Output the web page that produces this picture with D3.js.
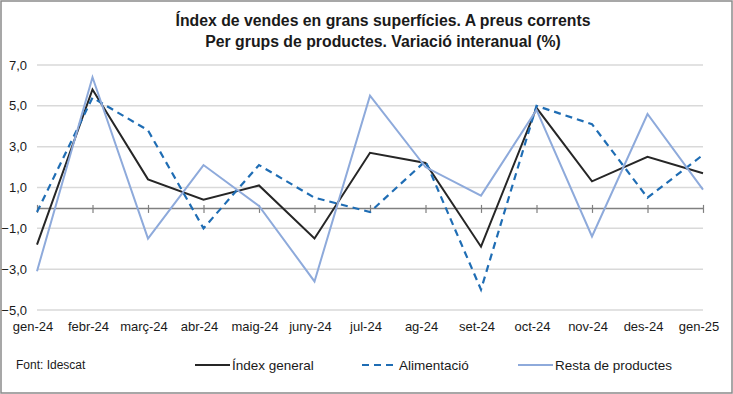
<!DOCTYPE html>
<html lang="ca">
<head>
<meta charset="UTF-8">
<title>Índex de vendes en grans superfícies</title>
<script src="https://d3js.org/d3.v7.min.js"></script>
<style>
    html, body { margin: 0; padding: 0; background: #fff; }
    svg { display: block; font-family: "Liberation Sans", Arial, sans-serif; }
</style>
</head>
<body>
<svg id="chart" width="733" height="394"></svg>
<script>
// Data
const months = ["gen-24", "febr-24", "març-24", "abr-24", "maig-24", "juny-24", "jul-24",
                "ag-24", "set-24", "oct-24", "nov-24", "des-24", "gen-25"];
const indexGeneral = [-1.8, 5.8, 1.4, 0.4, 1.1, -1.5, 2.7, 2.2, -1.9, 4.9, 1.3, 2.5, 1.7];
const alimentacio  = [-0.2, 5.4, 3.8, -1.0, 2.1, 0.5, -0.2, 2.3, -4.0, 5.0, 4.1, 0.5, 2.6];
const restaProductes = [-3.1, 6.4, -1.5, 2.1, 0.1, -3.6, 5.5, 2.0, 0.6, 4.8, -1.4, 4.6, 0.9];
const yTicks = [-5, -3, -1, 1, 3, 5, 7];

const series = [
    { name: "Índex general", values: indexGeneral, color: "#262626", dash: null, width: 2 },
    { name: "Alimentació", values: alimentacio, color: "#1f6db4", dash: "7,5", width: 2.2 },
    { name: "Resta de productes", values: restaProductes, color: "#8eaadb", dash: null, width: 2 }
];

const svg = d3.select("#chart");
const W = 733, H = 394;

// outer frame
svg.append("rect")
    .attr("x", 1).attr("y", 1)
    .attr("width", W - 2).attr("height", H - 2)
    .attr("fill", "#fff")
    .attr("stroke", "#8a8a8a")
    .attr("stroke-width", 1.5);

// title
const title = svg.append("text")
    .attr("text-anchor", "middle")
    .attr("font-size", "15.8px")
    .attr("font-weight", "bold")
    .attr("fill", "#1a1a1a");
title.append("tspan").attr("x", 383).attr("y", 26)
    .text("Índex de vendes en grans superfícies. A preus corrents");
title.append("tspan").attr("x", 383).attr("y", 47)
    .text("Per grups de productes. Variació interanual (%)");

const x = d3.scalePoint().domain(months).range([37, 703]);
const y = d3.scaleLinear().domain([-5, 7]).range([310, 65]);

// gridlines
svg.append("g")
    .selectAll("line")
    .data(yTicks)
    .join("line")
    .attr("x1", 37).attr("x2", 703)
    .attr("y1", d => y(d)).attr("y2", d => y(d))
    .attr("stroke", "#d9d9d9")
    .attr("stroke-width", 1.5);

// y labels
svg.append("g")
    .selectAll("text")
    .data(yTicks)
    .join("text")
    .attr("x", 27)
    .attr("y", d => y(d))
    .attr("dy", "0.35em")
    .attr("text-anchor", "end")
    .attr("font-size", "13px")
    .attr("fill", "#1a1a1a")
    .text(d => d3.format(".1f")(d).replace(".", ","));

// zero axis with cross ticks
const xAxis = d3.axisBottom(x).tickSize(0).tickFormat("");
const axisG = svg.append("g")
    .attr("transform", `translate(0,${y(0)})`)
    .call(xAxis);
axisG.select(".domain").attr("stroke", "#808080").attr("stroke-width", 1.5);
axisG.selectAll(".tick").append("line")
    .attr("y1", -3).attr("y2", 5)
    .attr("stroke", "#808080")
    .attr("stroke-width", 1.2);

// x labels
svg.append("g")
    .selectAll("text")
    .data(months)
    .join("text")
    .attr("x", d => x(d) - 4)
    .attr("y", 331)
    .attr("text-anchor", "middle")
    .attr("font-size", "13px")
    .attr("fill", "#1a1a1a")
    .text(d => d);

// lines
const line = d3.line()
    .x((d, i) => x(months[i]))
    .y(d => y(d));

svg.append("g")
    .selectAll("path")
    .data(series)
    .join("path")
    .attr("d", d => line(d.values))
    .attr("fill", "none")
    .attr("stroke", d => d.color)
    .attr("stroke-width", d => d.width)
    .attr("stroke-dasharray", d => d.dash)
    .attr("stroke-linejoin", "miter");

// footer / legend
svg.append("text")
    .attr("x", 16).attr("y", 369)
    .attr("font-size", "12px")
    .attr("fill", "#1a1a1a")
    .text("Font: Idescat");

const legendX = [195, 362, 518];
const legend = svg.append("g")
    .selectAll("g")
    .data(series)
    .join("g")
    .attr("transform", (d, i) => `translate(${legendX[i]},365)`);
legend.append("line")
    .attr("x1", 0).attr("x2", 35)
    .attr("stroke", d => d.color)
    .attr("stroke-width", d => d.width)
    .attr("stroke-dasharray", d => d.dash);
legend.append("text")
    .attr("x", 37)
    .attr("dy", "0.35em")
    .attr("font-size", "13.5px")
    .attr("fill", "#1a1a1a")
    .text(d => d.name);
</script>
</body>
</html>
